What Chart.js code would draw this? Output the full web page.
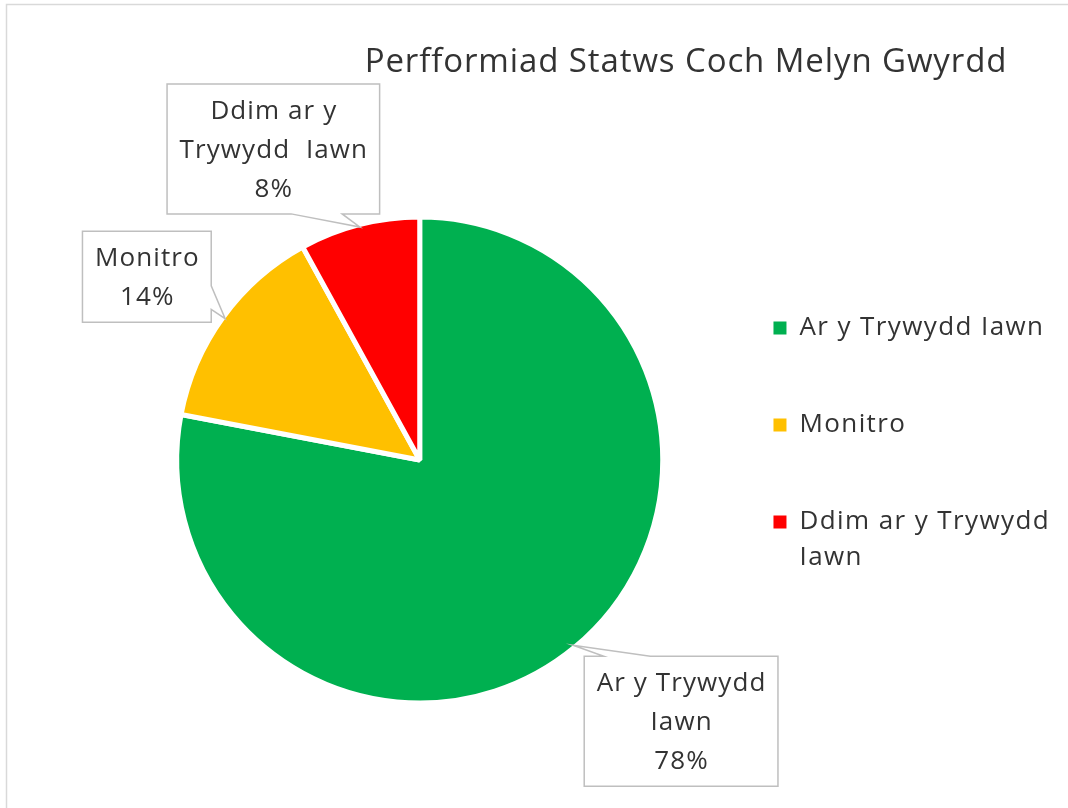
<!DOCTYPE html>
<html>
<head>
<meta charset="utf-8">
<title>Perfformiad Statws Coch Melyn Gwyrdd</title>
<script src="https://cdn.jsdelivr.net/npm/chart.js@4.4.0/dist/chart.umd.min.js"></script>
<style>
    html, body { margin: 0; padding: 0; background: #fff; }
    #wrap { position: relative; width: 1068px; height: 808px; }
</style>
</head>
<body>
<div id="wrap"><canvas id="pieChart"></canvas></div>
<script>
// data
var chart_title = "Perfformiad Statws Coch Melyn Gwyrdd";
var categories = ["Ar y Trywydd Iawn", "Monitro", "Ddim ar y Trywydd Iawn"];
var values = [78, 14, 8];
var colors = ["#00B050", "#FFC000", "#FF0000"];
var legend_lines = [["Ar y Trywydd Iawn"], ["Monitro"], ["Ddim ar y Trywydd", "Iawn"]];
var callout_lines = [["Ar y Trywydd", "Iawn"], ["Monitro"], ["Ddim ar y", "Trywydd  Iawn"]];

// where each callout box sits, relative to the slice's mid angle
var callout_place = [
    { dist: 1.521, shift: -5.4, edge: "top" },
    { dist: 1.353, shift: -2.1, edge: "right" },
    { dist: 1.415, shift: -10.8, edge: "bottom" },
];

var FONT = "'Open Sans', 'Noto Sans', sans-serif";
var TEXT_COLOR = "#333333";
var SPACING = "1.4px";

//- frame lines + slightly wide text spacing like the office render -
var framePlugin = {
    id: "frame",
    beforeLayout: function (chart) {
        chart.ctx.letterSpacing = SPACING;
    },
    beforeDraw: function (chart) {
        var ctx = chart.ctx;
        ctx.letterSpacing = SPACING;
        ctx.save();
        ctx.fillStyle = "#fff";
        ctx.fillRect(0, 0, chart.width, chart.height);
        ctx.strokeStyle = "#d9d9d9";
        ctx.lineWidth = 1.5;
        ctx.beginPath();
        ctx.moveTo(6.5, chart.height);
        ctx.lineTo(6.5, 4.5);
        ctx.lineTo(chart.width, 4.5);
        ctx.stroke();
        ctx.restore();
    },
};

//- title -
var titlePlugin = {
    id: "chartTitle",
    afterDraw: function (chart) {
        var ctx = chart.ctx;
        ctx.save();
        ctx.letterSpacing = "0.9px";
        ctx.font = "33px " + FONT;
        ctx.fillStyle = TEXT_COLOR;
        ctx.textAlign = "center";
        ctx.textBaseline = "middle";
        ctx.fillText(chart_title, 686, 63);
        ctx.restore();
    },
};

//- callout data labels -
var calloutPlugin = {
    id: "callouts",
    afterDatasetsDraw: function (chart) {
        var ctx = chart.ctx;
        var meta = chart.getDatasetMeta(0);
        var total = values.reduce(function (a, b) { return a + b; }, 0);
        var bw = chart.data.datasets[0].borderWidth;
        ctx.save();
        ctx.letterSpacing = "1.1px";
        ctx.font = "26px " + FONT;
        meta.data.forEach(function (arc, i) {
            var p = arc.getProps(["x", "y", "startAngle", "endAngle", "outerRadius"], true);
            var mid = (p.startAngle + p.endAngle) / 2;
            var rVis = p.outerRadius - bw / 2;
            var ax = p.x + Math.cos(mid) * rVis;
            var ay = p.y + Math.sin(mid) * rVis;

            var place = callout_place[i];
            var a2 = mid + (place.shift * Math.PI) / 180;
            var cx = p.x + Math.cos(a2) * place.dist * p.outerRadius;
            var cy = p.y + Math.sin(a2) * place.dist * p.outerRadius;

            var lines = callout_lines[i].concat([Math.round((values[i] / total) * 100) + "%"]);
            var tw = 0;
            lines.forEach(function (l) { tw = Math.max(tw, ctx.measureText(l).width); });
            var w = tw + 24;
            var h = lines.length * 39 + 13;
            var left = cx - w / 2, top = cy - h / 2, right = left + w, bottom = top + h;

            var pts = [[left, top]];
            var bc, half;
            if (place.edge === "top" || place.edge === "bottom") {
                bc = (ax + cx) / 2;
                half = w * 0.12;
            } else {
                bc = (ay + cy) / 2;
                half = h * 0.13;
            }
            if (place.edge === "top") pts.push([bc - half, top], [ax, ay], [bc + half, top]);
            pts.push([right, top]);
            if (place.edge === "right") pts.push([right, bc - half], [ax, ay], [right, bc + half]);
            pts.push([right, bottom]);
            if (place.edge === "bottom") pts.push([bc + half, bottom], [ax, ay], [bc - half, bottom]);
            pts.push([left, bottom]);
            if (place.edge === "left") pts.push([left, bc + half], [ax, ay], [left, bc - half]);

            ctx.beginPath();
            pts.forEach(function (pt, k) {
                if (k === 0) ctx.moveTo(pt[0], pt[1]);
                else ctx.lineTo(pt[0], pt[1]);
            });
            ctx.closePath();
            ctx.fillStyle = "#fff";
            ctx.fill();
            ctx.strokeStyle = "#bfbfbf";
            ctx.lineWidth = 1.5;
            ctx.stroke();

            ctx.fillStyle = TEXT_COLOR;
            ctx.textAlign = "center";
            ctx.textBaseline = "middle";
            lines.forEach(function (l, j) {
                ctx.fillText(l, cx + 0.5, top + 8 + 39 * (j + 0.5));
            });
        });
        ctx.restore();
    },
};

var pieCanvas = document.getElementById("pieChart").getContext("2d");

new Chart(pieCanvas, {
    type: "pie",
    data: {
        labels: categories,
        datasets: [
            {
                data: values,
                backgroundColor: colors,
                borderColor: "#fff",
                borderWidth: 5,
                radius: 243,
                clip: false,
            },
        ],
    },
    options: {
        responsive: true,
        maintainAspectRatio: false,
        animation: false,
        layout: {
            padding: { left: 127, right: 8, top: 254, bottom: 142 },
        },
        plugins: {
            title: { display: false },
            tooltip: { enabled: false },
            legend: {
                position: "right",
                fullSize: false,
                align: "start",
                labels: {
                    boxWidth: 13,
                    boxHeight: 13,
                    padding: 61,
                    color: TEXT_COLOR,
                    font: { family: FONT, size: 26, lineHeight: 1.385 },
                    generateLabels: function (chart) {
                        var items = Chart.overrides.doughnut.plugins.legend.labels.generateLabels(chart);
                        return items.map(function (it, i) {
                            it.text = legend_lines[i];
                            it.strokeStyle = colors[i];
                            it.lineWidth = 0;
                            return it;
                        });
                    },
                },
            },
        },
    },
    plugins: [framePlugin, calloutPlugin, titlePlugin],
});
</script>
</body>
</html>
